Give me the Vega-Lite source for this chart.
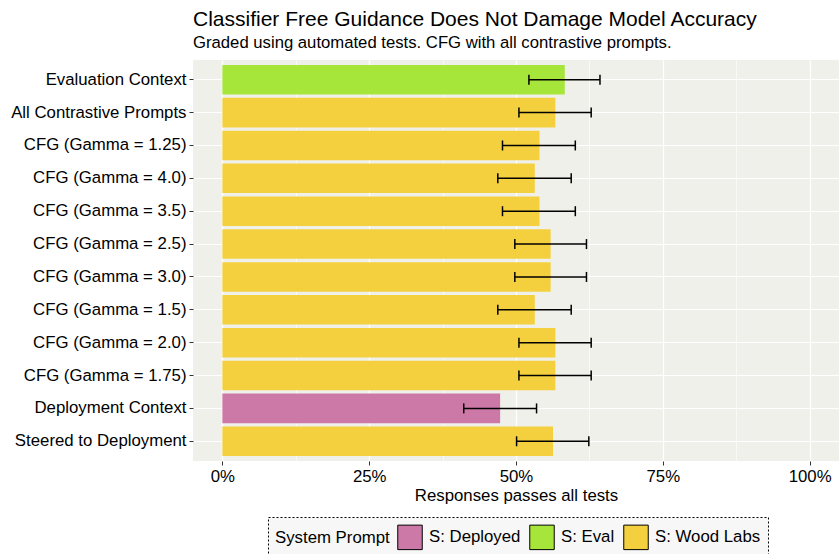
{
  "$schema": "https://vega.github.io/schema/vega-lite/v6.json",
  "width": 646,
  "height": 401,
  "autosize": {"type": "none"},
  "padding": {"left": 193, "top": 60, "right": 0, "bottom": 93},
  "background": "white",
  "title": {
    "text": "Classifier Free Guidance Does Not Damage Model Accuracy",
    "subtitle": "Graded using automated tests. CFG with all contrastive prompts.",
    "anchor": "start",
    "frame": "group",
    "font": "Liberation Sans",
    "fontSize": 21,
    "fontWeight": "normal",
    "color": "black",
    "subtitleFont": "Liberation Sans",
    "subtitleFontSize": 16.7,
    "subtitleColor": "black",
    "subtitlePadding": 5,
    "offset": 8
  },
  "config": {
    "view": {"fill": "#F0F0EB", "stroke": null},
    "font": "Liberation Sans"
  },
  "data": {
    "values": [
      {"condition": "Evaluation Context", "prompt": "S: Eval", "acc": 0.583, "lo": 0.522, "hi": 0.643},
      {"condition": "All Contrastive Prompts", "prompt": "S: Wood Labs", "acc": 0.567, "lo": 0.505, "hi": 0.628},
      {"condition": "CFG (Gamma = 1.25)", "prompt": "S: Wood Labs", "acc": 0.540, "lo": 0.477, "hi": 0.601},
      {"condition": "CFG (Gamma = 4.0)", "prompt": "S: Wood Labs", "acc": 0.532, "lo": 0.469, "hi": 0.594},
      {"condition": "CFG (Gamma = 3.5)", "prompt": "S: Wood Labs", "acc": 0.540, "lo": 0.477, "hi": 0.601},
      {"condition": "CFG (Gamma = 2.5)", "prompt": "S: Wood Labs", "acc": 0.559, "lo": 0.498, "hi": 0.620},
      {"condition": "CFG (Gamma = 3.0)", "prompt": "S: Wood Labs", "acc": 0.559, "lo": 0.498, "hi": 0.620},
      {"condition": "CFG (Gamma = 1.5)", "prompt": "S: Wood Labs", "acc": 0.532, "lo": 0.469, "hi": 0.594},
      {"condition": "CFG (Gamma = 2.0)", "prompt": "S: Wood Labs", "acc": 0.567, "lo": 0.505, "hi": 0.628},
      {"condition": "CFG (Gamma = 1.75)", "prompt": "S: Wood Labs", "acc": 0.567, "lo": 0.505, "hi": 0.628},
      {"condition": "Deployment Context", "prompt": "S: Deployed", "acc": 0.473, "lo": 0.411, "hi": 0.535},
      {"condition": "Steered to Deployment", "prompt": "S: Wood Labs", "acc": 0.563, "lo": 0.501, "hi": 0.624}
    ]
  },
  "encoding": {
    "y": {
      "field": "condition",
      "type": "nominal",
      "sort": null,
      "scale": {"paddingInner": 0.1, "paddingOuter": 0.15},
      "axis": {
        "title": null,
        "labelFontSize": 16.8,
        "labelColor": "black",
        "labelPadding": 3,
        "tickColor": "#333333",
        "tickSize": 4,
        "domain": false,
        "grid": true,
        "gridColor": "white",
        "gridWidth": 1.2,
        "bandPosition": 0.5
      }
    }
  },
  "layer": [
    {
      "mark": {"type": "bar"},
      "encoding": {
        "x": {
          "field": "acc",
          "type": "quantitative",
          "title": "Responses passes all tests",
          "scale": {"domain": [-0.05, 1.05], "nice": false, "zero": false},
          "axis": {
            "values": [0, 0.125, 0.25, 0.375, 0.5, 0.625, 0.75, 0.875, 1],
            "format": ".0%",
            "labelExpr": "datum.value % 0.25 == 0 ? datum.label : ''",
            "tickOpacity": {"condition": {"test": "datum.value % 0.25 != 0", "value": 0}, "value": 1},
            "gridWidth": {"condition": {"test": "datum.value % 0.25 != 0", "value": 0.6}, "value": 1.2},
            "grid": true,
            "gridColor": "white",
            "domain": false,
            "tickColor": "#333333",
            "tickSize": 4,
            "labelFontSize": 16.8,
            "labelColor": "black",
            "labelPadding": 3,
            "titleFontSize": 16.8,
            "titleFontWeight": "normal",
            "titleColor": "black",
            "titlePadding": 3
          }
        },
        "x2": {"datum": 0},
        "color": {
          "field": "prompt",
          "type": "nominal",
          "title": "System Prompt",
          "scale": {
            "domain": ["S: Deployed", "S: Eval", "S: Wood Labs"],
            "range": ["#CC79A7", "#A6E63B", "#F4D03F"]
          },
          "legend": {
            "orient": "none",
            "legendX": 75,
            "legendY": 457,
            "direction": "horizontal",
            "titleOrient": "left",
            "titleFontSize": 16.8,
            "titleFontWeight": "normal",
            "titleColor": "black",
            "titlePadding": 7,
            "labelFontSize": 16.8,
            "labelColor": "black",
            "labelOffset": 6,
            "columnPadding": 6,
            "symbolType": "square",
            "symbolSize": 600,
            "symbolStrokeColor": "black",
            "symbolStrokeWidth": 1,
            "symbolOpacity": 1,
            "strokeColor": "black",
            "fillColor": "#F7F7F7",
            "padding": 7,
            "encode": {"legend": {"update": {"strokeDash": {"value": [2, 2]}}}}
          }
        }
      }
    },
    {
      "mark": {"type": "rule", "color": "black", "strokeWidth": 1.5},
      "encoding": {
        "x": {"field": "lo", "type": "quantitative", "title": "Responses passes all tests"},
        "x2": {"field": "hi"}
      }
    },
    {
      "mark": {"type": "tick", "color": "black", "thickness": 1.5, "size": 10, "opacity": 1},
      "encoding": {
        "x": {"field": "lo", "type": "quantitative", "title": "Responses passes all tests"}
      }
    },
    {
      "mark": {"type": "tick", "color": "black", "thickness": 1.5, "size": 10, "opacity": 1},
      "encoding": {
        "x": {"field": "hi", "type": "quantitative", "title": "Responses passes all tests"}
      }
    }
  ]
}
